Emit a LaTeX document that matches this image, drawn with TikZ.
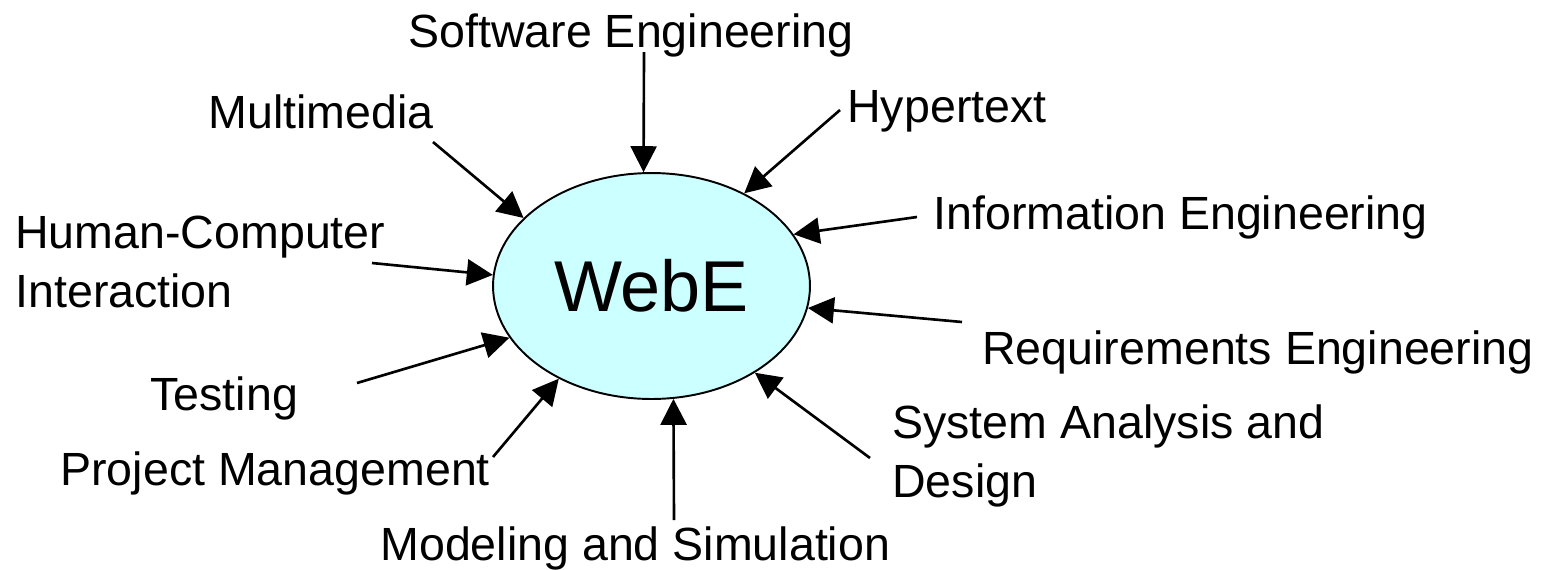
\documentclass[tikz,border=0pt]{standalone}
\usepackage{fontspec}
\setmainfont{Liberation Sans}
\usetikzlibrary{arrows.meta, shapes.geometric}
\definecolor{webcyan}{HTML}{CCFFFF}

\begin{document}
\begin{tikzpicture}[
  x=0.02cm, y=-0.02cm,
  every node/.style={font=\fontsize{26.5}{33.5}\selectfont},
  topic/.style={anchor=base west, inner sep=0pt, align=left},
  hub/.style={ellipse, draw, line width=1.1pt, fill=webcyan, inner sep=0pt, minimum width=6.34cm, minimum height=4.52cm, font=\fontsize{41}{41}\selectfont},
  feed/.style={-{Triangle[length=0.52cm, width=0.52cm]}, line width=1.5pt},
]
\useasboundingbox (0,0) rectangle (1558,569);

% Center
\node[hub] (webe) at (651.5, 286) {WebE};

% Topics (two-line ones sit on their last baseline)
\node[topic] (sweng) at (408, 47) {Software Engineering};
\node[topic] (media) at (208, 128) {Multimedia};
\node[topic] (hyper) at (847, 122) {Hypertext};
\node[topic] (infoeng) at (933, 229) {Information Engineering};
\node[topic] (hci) at (15, 307) {Human-Computer\\Interaction};
\node[topic] (reqeng) at (982, 364) {Requirements Engineering};
\node[topic] (testing) at (150, 410) {Testing};
\node[topic] (sysad) at (892, 497) {System Analysis and\\Design};
\node[topic] (projman) at (60, 485) {Project Management};
\node[topic] (modsim) at (380, 560) {Modeling and Simulation};

% Arrow tails
\coordinate (sweng-t) at (644, 52);
\coordinate (media-t) at (433, 142);
\coordinate (hyper-t) at (840, 110);
\coordinate (infoeng-t) at (917, 217);
\coordinate (hci-t) at (372, 263);
\coordinate (reqeng-t) at (962, 322);
\coordinate (testing-t) at (357, 383);
\coordinate (sysad-t) at (870, 458);
\coordinate (projman-t) at (493, 457);
\coordinate (modsim-t) at (674, 520);

% Arrows
\draw[feed] (sweng-t) -- (webe.94);
\draw[feed] (media-t) -- (webe.152);
\draw[feed] (hyper-t) -- (webe.45);
\draw[feed] (infoeng-t) -- (webe.20);
\draw[feed] (hci-t) -- (webe.176.5);
\draw[feed] (reqeng-t) -- (webe.-8);
\draw[feed] (testing-t) -- (webe.200);
\draw[feed] (sysad-t) -- (webe.-40);
\draw[feed] (projman-t) -- (webe.225);
\draw[feed] (modsim-t) -- (webe.-79);

\end{tikzpicture}
\end{document}
